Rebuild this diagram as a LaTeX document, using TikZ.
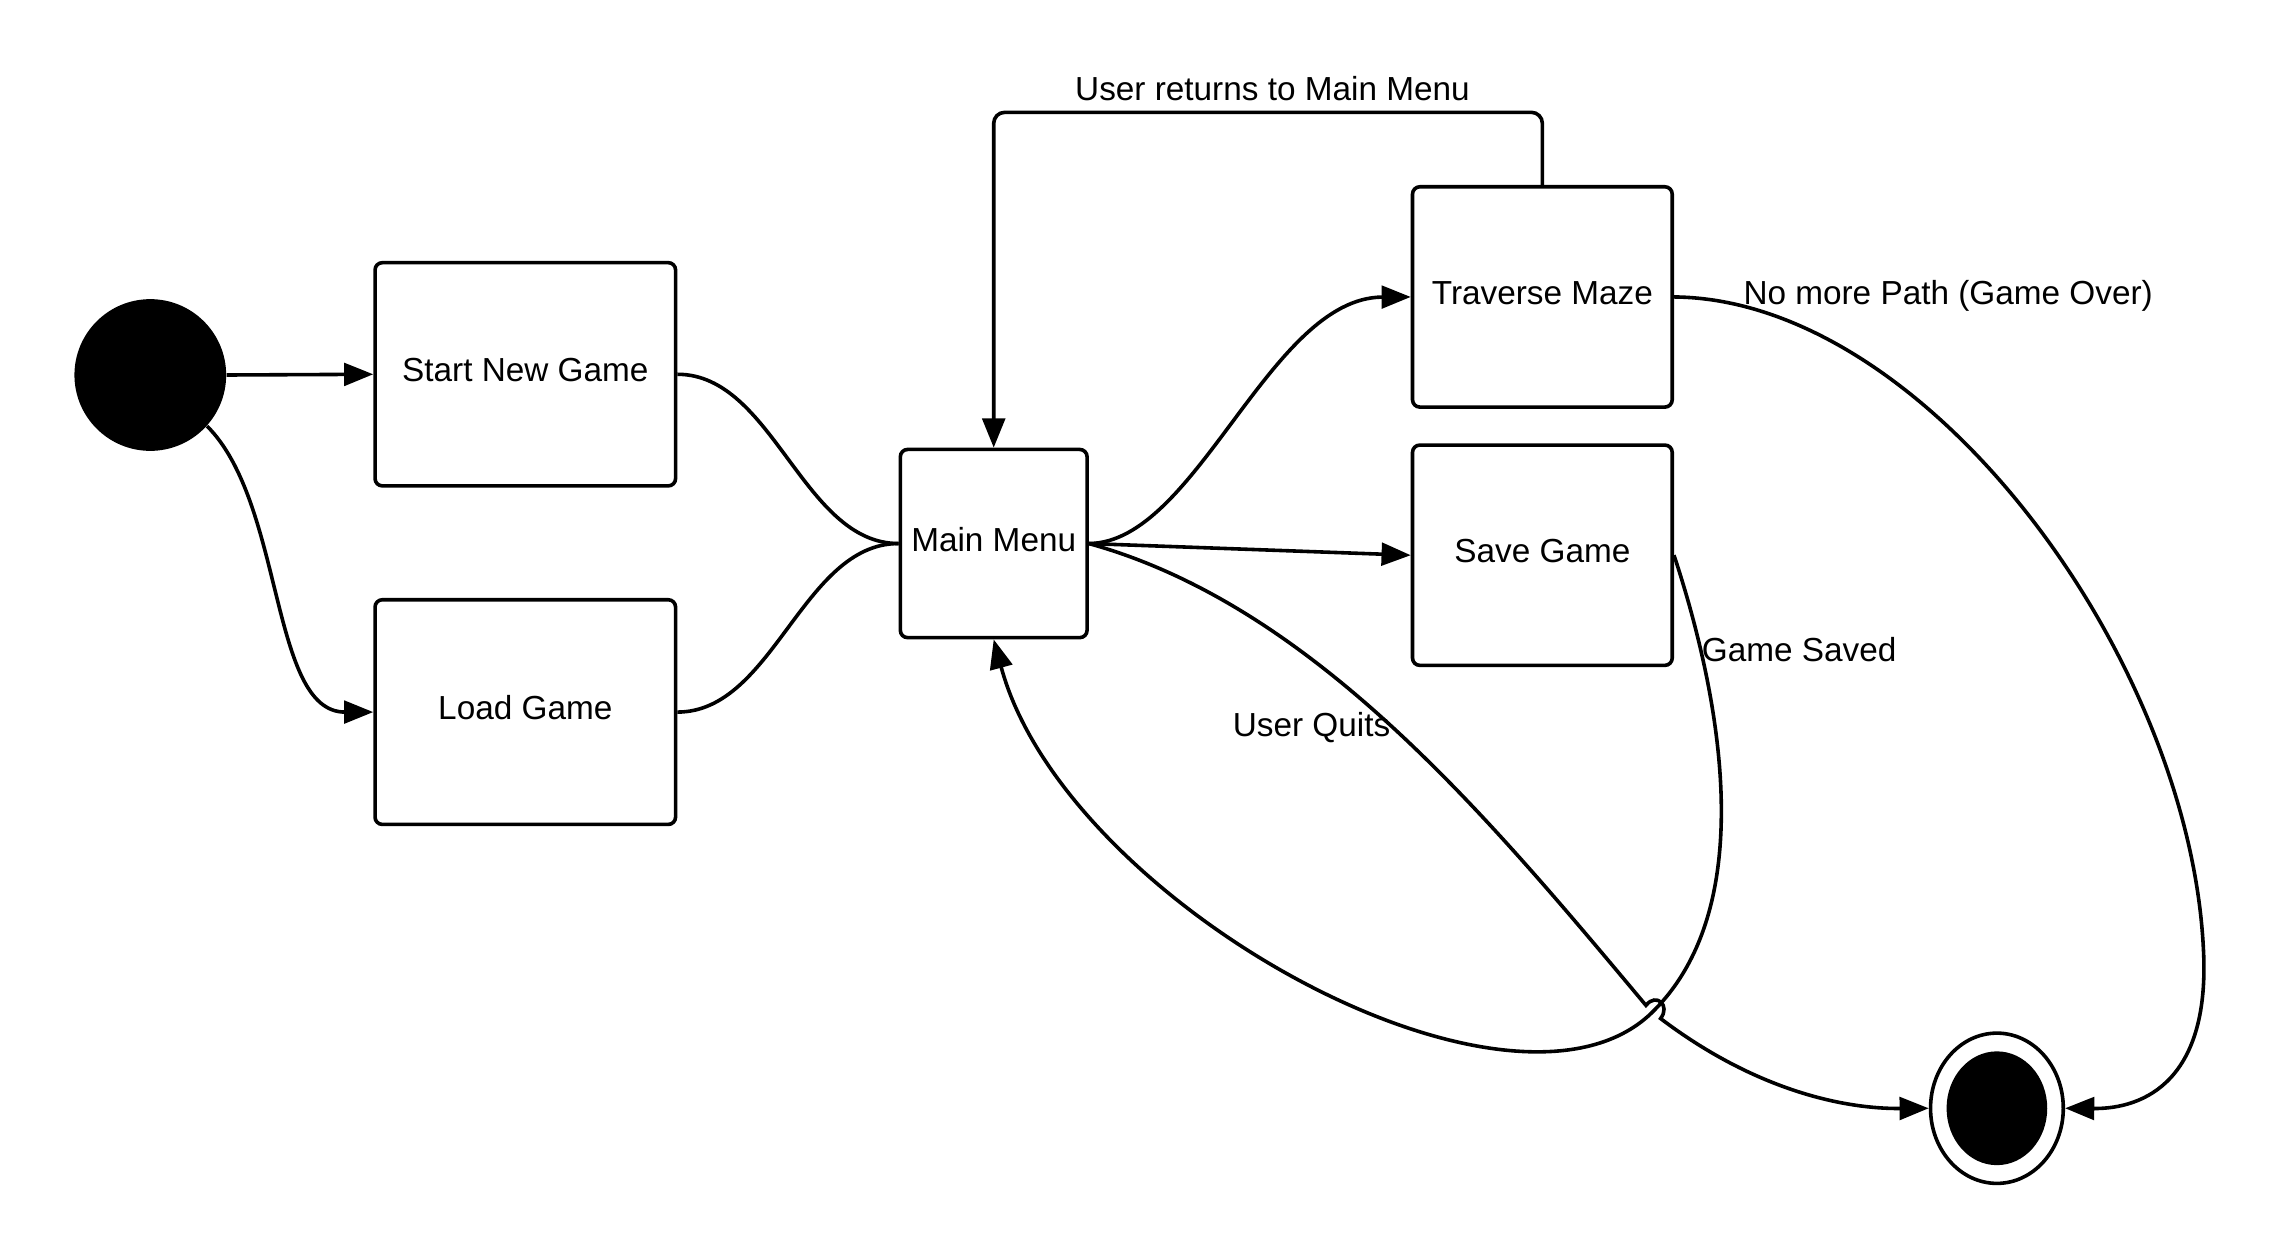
\documentclass[tikz,border=0pt]{standalone}
\usepackage{fontspec}
\setmainfont{Liberation Sans}
\usetikzlibrary{arrows.meta,shapes.geometric}
\begin{document}
\begin{tikzpicture}[x=0.02cm,y=-0.02cm,
  every node/.style={font=\fontsize{13}{15.6}\selectfont},
  state/.style={draw, line width=1.4pt, rounded corners=0.1cm, align=center, inner sep=0pt,
    text height=0.33cm, text depth=0.12cm},
  link/.style={line width=1.4pt},
  arr/.style={link, -{Triangle[length=0.4cm,width=0.31cm]}},
  lbl/.style={inner sep=0pt, anchor=base west}]
\useasboundingbox (0,0) rectangle (1568,861);

% states
\node[circle, fill, minimum size=2.08cm, inner sep=0pt] (init) at (103,257) {};
\node[state, minimum width=4.12cm, minimum height=3.06cm] (start) at (360,256.5) {Start New Game};
\node[state, minimum width=4.12cm, minimum height=3.08cm] (load) at (360,488) {Load Game};
\node[state, minimum width=2.56cm, minimum height=2.58cm] (menu) at (681,372.5) {Main Menu};
\node[state, minimum width=3.56cm, minimum height=3.02cm] (maze) at (1057,203.5) {Traverse Maze};
\node[state, minimum width=3.56cm, minimum height=3.02cm] (save) at (1057,380.5) {Save Game};
\node[ellipse, draw, line width=1.4pt, minimum width=1.82cm, minimum height=2.06cm, inner sep=0pt] (fin) at (1368.5,759.5) {};
\node[ellipse, fill, minimum width=1.38cm, minimum height=1.56cm, inner sep=0pt] (finc) at (fin.center) {};

% transitions
\draw[arr] (init.east) -- (start.west);
\draw[arr] (init.-42) .. controls (195,345) and (185,488) .. (load.west);
\draw[link] (start.east) .. controls (530,256.5) and (550,372.5) .. (menu.west);
\draw[link] (load.east) .. controls (530,488) and (550,372.5) .. (menu.west);
\draw[arr] (menu.east) .. controls (820,372) and (870,204) .. (maze.west);
\draw[arr] (menu.east) -- (save.west);

\coordinate (top) at (0,77);
\draw[arr, rounded corners=0.15cm] (maze.north) -- (maze.north |- top) -- (menu.north |- top) -- (menu.north);

\draw[arr] (maze.east) .. controls (1320,205) and (1500,450) .. (1510,650)
  .. controls (1515,740) and (1470,760) .. (fin.east);

\draw[arr] (save.east) .. controls (1180,480) and (1205,620) .. (1134,692)
  .. controls (1040,790) and (730,620) .. (menu.south);

% line jump where the quit transition crosses the save loop
\coordinate (hopA) at (1128,689);
\coordinate (hopB) at (1138,698);
\draw[arr] (menu.east) .. controls (900,415) and (1020,560) .. (hopA)
  .. controls +(7,-9) and +(7,-9) .. (hopB)
  .. controls (1200,745) and (1260,760) .. (fin.west);

% labels
\node[lbl] (lret) at (736.5,69) {User returns to Main Menu};
\node[lbl] (lover) at (1194.5,209) {No more Path (Game Over)};
\node[lbl] (lsaved) at (1166,453) {Game Saved};
\node[lbl] (lquit) at (844.5,505) {User Quits};
\end{tikzpicture}
\end{document}
